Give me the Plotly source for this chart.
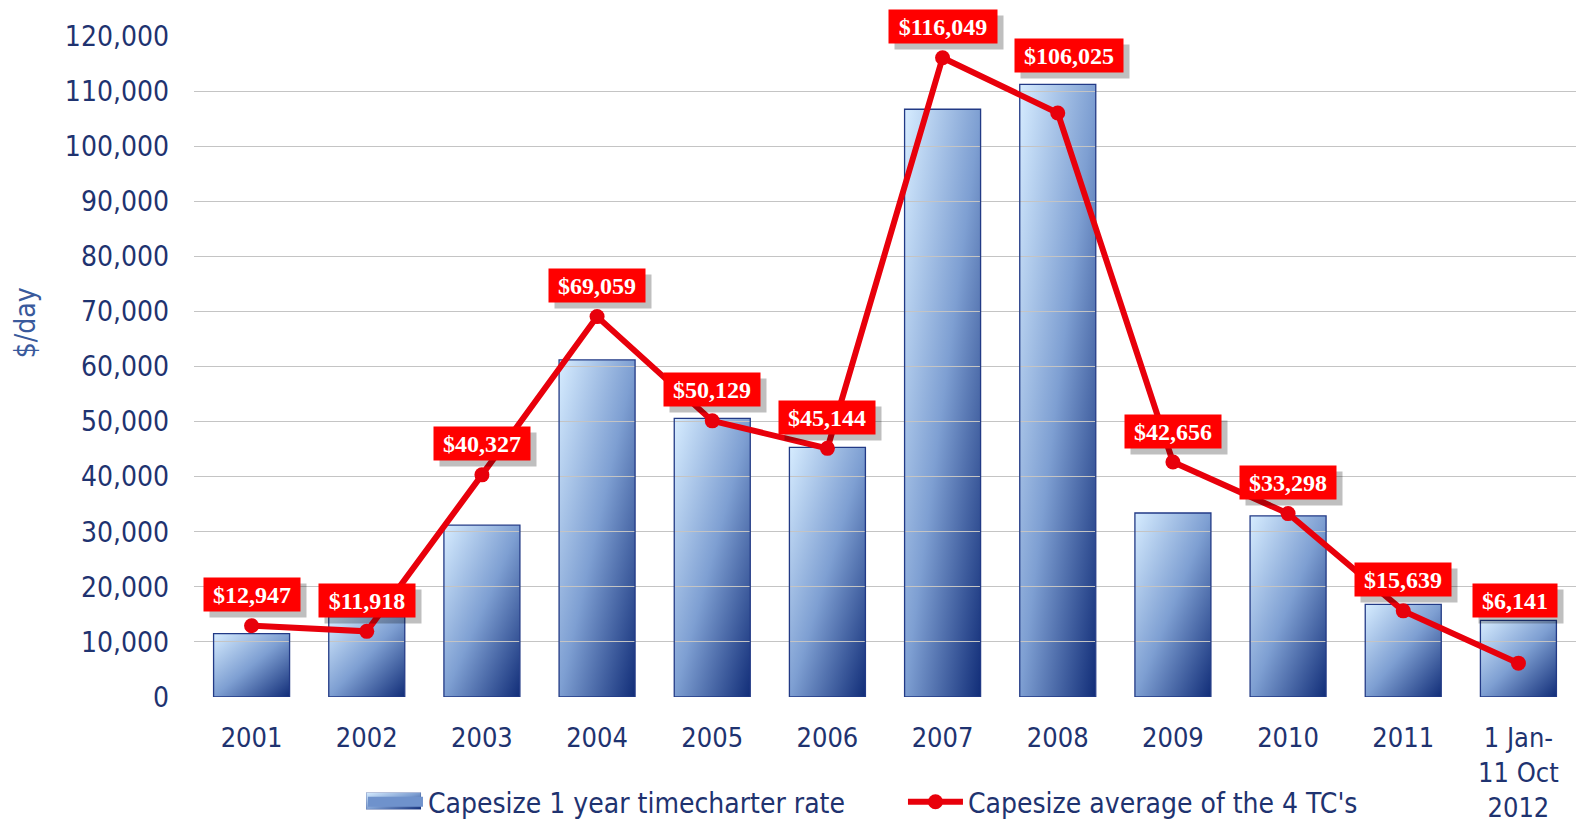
import base64
import plotly.graph_objects as go

# Categories and series
categories = ["2001", "2002", "2003", "2004", "2005", "2006", "2007", "2008",
              "2009", "2010", "2011", "1 Jan-<br>11 Oct<br>2012"]
tc_1yr_rate = [11500, 14600, 31200, 61200, 50600, 45300, 106700, 111200,
               33400, 32900, 16800, 13900]
avg_4tc = [12947, 11918, 40327, 69059, 50129, 45144, 116049, 106025,
           42656, 33298, 15639, 6141]
y_ticks = list(range(0, 120001, 10000))

# Label placement (pixel offsets above each point)
label_dy = [31, 31, 31, 31, 31, 31, 31, 57, 31, 31, 31, 63]
label_dx = [0, 0, 0, 0, 0, 0, 0, 11, 0, 0, 0, -3]

NAVY = "#1f3370"
RED_LINE = "#e8000b"
RED_BOX = "#ff0000"
TICK_FONT = "DejaVu Sans Condensed, DejaVu Sans, sans-serif"
BAR_WIDTH = 0.66

x_idx = list(range(len(categories)))


def gradient_uri(stroke=False):
    """Diagonal light-to-dark blue gradient as an SVG data URI."""
    border = ('stroke="#223a86" stroke-width="1.5" vector-effect="non-scaling-stroke"'
              if stroke else "")
    svg = (
        '<svg xmlns="http://www.w3.org/2000/svg" width="100" height="100" '
        'viewBox="0 0 100 100" preserveAspectRatio="none"><defs>'
        '<linearGradient id="g" x1="0" y1="0" x2="1" y2="1">'
        '<stop offset="0" stop-color="#d6ecff"/>'
        '<stop offset="0.5" stop-color="#7e9fd2"/>'
        '<stop offset="1" stop-color="#112d78"/>'
        '</linearGradient></defs>'
        f'<rect width="100" height="100" fill="url(#g)" {border}/></svg>'
    )
    return "data:image/svg+xml;base64," + base64.b64encode(svg.encode()).decode()


grad_uri = gradient_uri()

fig = go.Figure()

# Bars: outline from the trace, gradient fill from images placed on the data axes
fig.add_trace(go.Bar(
    x=x_idx, y=tc_1yr_rate, width=BAR_WIDTH,
    marker=dict(color="rgba(0,0,0,0)", line=dict(color="#223a86", width=1.3)),
    showlegend=False, hoverinfo="y",
))
images = []
for xi, v in zip(x_idx, tc_1yr_rate):
    images.append(dict(
        source=grad_uri, xref="x", yref="y",
        x=xi - BAR_WIDTH / 2, y=v, sizex=BAR_WIDTH, sizey=v,
        xanchor="left", yanchor="top", sizing="stretch", layer="below",
    ))

# Gradient swatch laid over the bar legend symbol
images.append(dict(
    source=gradient_uri(stroke=True), xref="paper", yref="paper",
    x=0.1245, y=-0.1445, sizex=0.0398, sizey=0.0257,
    xanchor="left", yanchor="top", sizing="stretch", layer="above",
))

# Legend entry for the bars
fig.add_trace(go.Scatter(
    x=[None], y=[None], mode="lines", name="Capesize 1 year timecharter rate",
    line=dict(color="#6f92cc", width=17),
))

fig.add_trace(go.Scatter(
    x=x_idx, y=avg_4tc, mode="lines+markers",
    name="Capesize average of the 4 TC's",
    line=dict(color=RED_LINE, width=6),
    marker=dict(color=RED_LINE, size=15),
))

# Value labels: soft shadow then red box
annotations = []
for xi, v, dy, dx in zip(x_idx, avg_4tc, label_dy, label_dx):
    txt = "${:,}".format(v)
    w = sum(6 if c == "," else 12 for c in txt) + 18
    annotations.append(dict(
        x=xi, y=v, xref="x", yref="y", text=txt, showarrow=False,
        xshift=dx + 6, yshift=dy - 6, width=w, height=33,
        bgcolor="rgba(0,0,0,0.25)",
        font=dict(family="Liberation Serif, serif", size=24, color="rgba(0,0,0,0)"),
        borderpad=0,
    ))
    annotations.append(dict(
        x=xi, y=v, xref="x", yref="y", text="<b>" + txt + "</b>", showarrow=False,
        xshift=dx, yshift=dy, width=w, height=33, bgcolor=RED_BOX,
        font=dict(family="Liberation Serif, serif", size=24, color="#ffffff"),
        borderpad=0,
    ))

# Axis title
annotations.append(dict(
    x=-0.1223, y=0.567, xref="paper", yref="paper", text="$/day",
    textangle=-90, showarrow=False, xanchor="center", yanchor="middle",
    font=dict(family=TICK_FONT, size=28, color="#3a5a9c"),
))

fig.update_layout(
    width=1576, height=821,
    margin=dict(l=194, r=0, t=36, b=124, autoexpand=False),
    paper_bgcolor="white", plot_bgcolor="white",
    images=images,
    annotations=annotations,
    showlegend=True,
    legend=dict(
        orientation="h", x=0.513, xanchor="center", y=-0.159, yanchor="middle",
        font=dict(family=TICK_FONT, size=28, color=NAVY),
        itemwidth=55, traceorder="normal", bgcolor="rgba(0,0,0,0)",
        entrywidth=470,
    ),
    xaxis=dict(
        range=[-0.5, len(categories) - 0.5],
        tickvals=x_idx, ticktext=categories,
        showgrid=False, zeroline=False, showline=False, ticks="",
        ticklabelstandoff=22, automargin=False,
        tickfont=dict(family=TICK_FONT, size=27, color=NAVY),
    ),
    yaxis=dict(
        range=[0, 120000], tickvals=y_ticks, tickformat=",",
        showgrid=True, gridcolor="#c4c4c4", gridwidth=1.3,
        zeroline=False, showline=False, ticks="",
        ticklabelstandoff=24, automargin=False,
        tickfont=dict(family=TICK_FONT, size=28, color=NAVY),
    ),
)

fig.write_html("out.html")
